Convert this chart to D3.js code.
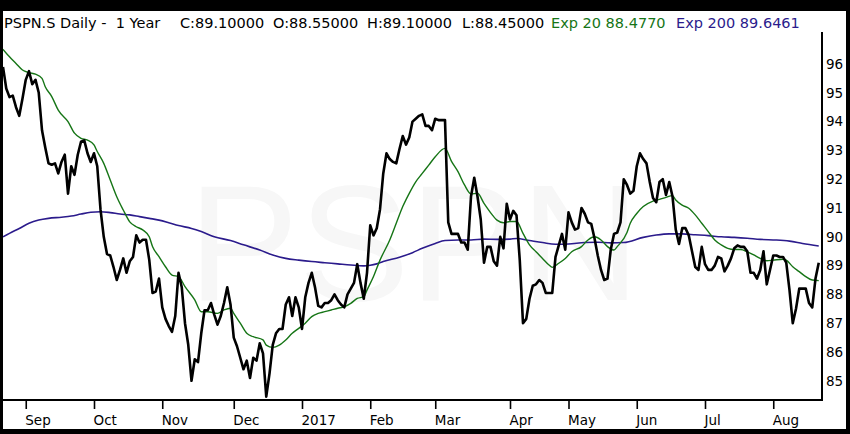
<!DOCTYPE html>
<html>
<head>
<meta charset="utf-8">
<script src="https://cdn.jsdelivr.net/npm/d3@7"></script>
<style>
  body { margin: 0; background: #000; overflow: hidden; }
  svg { display: block; }
</style>
</head>
<body>
<script>
// daily closes, one per trading day (index 0 = late Aug 2016)
var close = [
  95.9, 95.15, 94.85, 94.9, 94.5, 94.2, 94.8, 95.45, 95.75, 95.3,
  95.45, 95.0, 93.7, 93.1, 92.55, 92.5, 92.55, 92.2, 92.6, 92.85,
  91.5, 92.45, 92.15, 92.85, 93.3, 93.35, 92.9, 92.6, 92.9, 92.45,
  90.95, 90.0, 89.4, 89.35, 88.95, 88.5, 88.85, 89.25, 88.75, 89.15,
  89.3, 90.05, 89.8, 89.9, 89.9, 89.2, 88.05, 88.1, 88.55, 87.55,
  87.15, 86.9, 86.7, 87.25, 88.75, 88.25, 87.0, 86.25, 85.0, 85.75,
  85.65, 86.65, 87.45, 87.45, 87.7, 87.3, 86.95, 87.25, 87.7, 88.25,
  87.65, 86.5, 86.2, 85.8, 85.4, 85.7, 85.1, 85.8, 85.7, 86.3,
  85.95, 84.45, 85.25, 86.25, 86.65, 86.8, 86.8, 87.65, 87.9, 87.25,
  87.9, 87.55, 86.8, 87.9, 88.4, 88.75, 88.25, 87.6, 87.55, 87.7,
  87.7, 87.8, 88.0, 87.8, 87.65, 87.55, 88.0, 88.2, 88.4, 89.05,
  88.4, 87.85, 88.75, 90.4, 90.05, 90.3, 90.95, 92.2, 92.9, 92.7,
  92.6, 92.55, 93.05, 93.5, 93.2, 93.45, 94.0, 94.1, 94.2, 94.25,
  93.85, 93.85, 93.7, 94.1, 94.05, 94.05, 94.05, 90.5, 90.1, 90.1,
  90.1, 89.8, 89.8, 89.55, 91.4, 92.05, 91.4, 90.6, 89.1, 89.65,
  89.65, 89.15, 89.0, 90.0, 89.6, 91.15, 90.6, 90.9, 90.75, 89.2,
  87.0, 87.15, 87.85, 88.3, 88.35, 88.5, 88.4, 88.05, 88.05, 88.05,
  89.3, 89.7, 90.1, 89.55, 90.85, 90.5, 90.25, 90.3, 91.0, 90.8,
  90.5, 90.45, 89.95, 89.35, 88.85, 88.5, 88.55, 89.55, 90.1, 90.15,
  90.5, 92.0, 91.8, 91.5, 91.6, 92.45, 92.9, 92.7, 92.55, 91.9,
  91.35, 91.2, 91.9, 92.0, 91.45, 91.9, 91.4, 90.25, 89.75, 90.3,
  90.3, 90.05, 89.5, 88.95, 88.85, 89.65, 89.05, 88.85, 88.85, 89.0,
  89.3, 89.25, 88.8, 89.0, 89.25, 89.6, 89.7, 89.65, 89.65, 89.5,
  88.75, 88.75, 88.55, 88.85, 89.5, 88.35, 88.85, 89.35, 89.35, 89.3,
  89.3, 89.1, 88.15, 87.0, 87.5, 88.2, 88.2, 88.2, 87.7, 87.55,
  88.55, 89.1
];

// Exp 20
var ema20Day = [0, 2, 4, 6, 8, 10, 12, 13, 15, 17, 20, 22, 24, 26, 28, 29, 31, 33, 35, 37,
  39, 41, 43, 45, 46, 48, 50, 52, 54, 56, 59, 61, 63, 66, 68, 70, 71, 73, 75, 77,
  80, 81, 83, 85, 87, 89, 91, 93, 95, 97, 99, 101, 103, 105, 107, 109, 111, 112, 114, 116,
  119, 121, 123, 125, 127, 129, 131, 133, 136, 138, 140, 142, 144, 146, 148, 150, 152, 154, 156, 158,
  160, 162, 164, 166, 168, 169, 171, 173, 175, 178, 180, 182, 184, 186, 188, 189, 192, 193, 195, 197,
  200, 202, 204, 206, 207, 209, 211, 213, 215, 217, 219, 221, 223, 225, 227, 229, 231, 233, 235, 237,
  240, 241, 243, 245, 247, 249, 251];
var ema20Val = [96.51, 96.25, 96.02, 95.79, 95.70, 95.65, 95.50, 95.21, 94.87, 94.40, 94.0, 93.6, 93.42, 93.36, 93.19, 92.96, 92.55, 91.97, 91.39, 90.93,
  90.52, 90.35, 90.24, 90.0, 89.66, 89.31, 88.96, 88.67, 88.62, 88.27, 87.81, 87.40, 87.40, 87.34, 87.46, 87.52, 87.34, 87.0, 86.65, 86.53,
  86.42, 86.24, 86.16, 86.24, 86.42, 86.65, 86.82, 87.0, 87.23, 87.34, 87.40, 87.46, 87.52, 87.57, 87.69, 87.86, 87.92, 88.15, 88.62, 89.19,
  89.89, 90.47, 91.05, 91.51, 91.91, 92.20, 92.49, 92.78, 93.07, 92.62, 92.26, 91.8, 91.49, 91.51, 91.16, 90.84, 90.58, 90.49, 90.53, 90.53,
  90.12, 89.72, 89.48, 89.25, 89.02, 88.94, 89.08, 89.25, 89.48, 89.66, 89.89, 90.0, 89.89, 89.66, 89.54, 89.66, 90.15, 90.47, 90.81, 91.05,
  91.24, 91.30, 91.37, 91.43, 91.28, 91.10, 90.99, 90.76, 90.47, 90.18, 89.89, 89.72, 89.60, 89.56, 89.56, 89.48, 89.37, 89.25, 89.17, 89.19,
  89.22, 89.19, 88.96, 88.79, 88.62, 88.50, 88.48];

// Exp 200
var ema200Day = [0, 2, 5, 8, 11, 14, 18, 21, 24, 27, 30, 33, 36, 39, 42, 45, 48, 51, 54, 58,
  61, 65, 70, 74, 79, 83, 87, 91, 95, 99, 103, 107, 111, 113, 115, 117, 122, 126, 129, 133,
  136, 140, 144, 148, 152, 156, 158, 162, 166, 170, 174, 179, 183, 187, 191, 197, 201, 205, 209, 213,
  217, 221, 225, 229, 233, 238, 242, 246, 251];
var ema200Val = [90.0, 90.12, 90.29, 90.47, 90.58, 90.64, 90.68, 90.72, 90.79, 90.85, 90.87, 90.84, 90.79, 90.76, 90.70, 90.64, 90.58, 90.49, 90.39, 90.29,
  90.18, 90.0, 89.87, 89.72, 89.54, 89.37, 89.25, 89.19, 89.14, 89.10, 89.06, 89.02, 88.99, 89.01, 89.06, 89.14, 89.29, 89.45, 89.60, 89.77,
  89.87, 89.89, 89.89, 89.92, 89.91, 89.92, 89.94, 89.87, 89.80, 89.74, 89.75, 89.80, 89.81, 89.79, 89.80, 89.98, 90.06, 90.10, 90.10, 90.07,
  90.04, 90.0, 89.98, 89.95, 89.91, 89.89, 89.85, 89.77, 89.68];

var monthLabels = ["Sep", "Oct", "Nov", "Dec", "2017", "Feb", "Mar", "Apr", "May", "Jun", "Jul", "Aug"];
var monthDay = [7, 28, 49, 71, 92, 113, 133, 156, 174, 195, 216, 237];
var priceTicks = [85, 86, 87, 88, 89, 90, 91, 92, 93, 94, 95, 96];

var headerParts = [
  { text: "PSPN.S Daily -  1 Year", fill: "#000", x: 4 },
  { text: "C:89.10000", fill: "#000", x: 180 },
  { text: "O:88.55000", fill: "#000", x: 273 },
  { text: "H:89.10000", fill: "#000", x: 367 },
  { text: "L:88.45000", fill: "#000", x: 462 },
  { text: "Exp 20 88.4770", fill: "#167516", x: 551 },
  { text: "Exp 200 89.6461", fill: "#2b1b8c", x: 676 }
];

var width = 850, height = 434;
var svg = d3.select('body').append('svg')
  .attr('width', width)
  .attr('height', height);

svg.append('rect').attr('width', width).attr('height', height).attr('fill', '#000');
svg.append('rect')
  .attr('x', 3).attr('y', 11)
  .attr('width', 843).attr('height', 418)
  .attr('fill', '#fff');

// faint watermark
svg.append('text')
  .attr('x', 188).attr('y', 300)
  .attr('font-family', 'Liberation Sans, Arial, sans-serif')
  .attr('font-size', 166)
  .attr('fill', '#f7f7f7')
  .text('PSPN');

var x = d3.scaleLinear().domain([0, 251]).range([3, 818.75]);
var y = d3.scaleLinear().domain([85, 96]).range([380.8, 64]);

svg.append('clipPath').attr('id', 'plot')
  .append('rect').attr('x', 3).attr('y', 32).attr('width', 819).attr('height', 368);

var plot = svg.append('g').attr('clip-path', 'url(#plot)');

var ema200Line = d3.line()
  .x(function(d, i) { return x(ema200Day[i]); })
  .y(function(d) { return y(d); })
  .curve(d3.curveMonotoneX);
plot.append('path')
  .attr('d', ema200Line(ema200Val))
  .attr('fill', 'none')
  .attr('stroke', '#2b1b8c')
  .attr('stroke-width', 1.6);

var ema20Line = d3.line()
  .x(function(d, i) { return x(ema20Day[i]); })
  .y(function(d) { return y(d); })
  .curve(d3.curveMonotoneX);
plot.append('path')
  .attr('d', ema20Line(ema20Val))
  .attr('fill', 'none')
  .attr('stroke', '#167516')
  .attr('stroke-width', 1.4);

var closeLine = d3.line()
  .x(function(d, i) { return x(i); })
  .y(function(d) { return y(d); });
plot.append('path')
  .attr('d', closeLine(close))
  .attr('fill', 'none')
  .attr('stroke', '#000')
  .attr('stroke-width', 2.6)
  .attr('stroke-linejoin', 'round');

// frame lines of the plot
svg.append('line')
  .attr('x1', 3).attr('x2', 823).attr('y1', 400).attr('y2', 400)
  .attr('stroke', '#000').attr('stroke-width', 2);
svg.append('line')
  .attr('x1', 822).attr('x2', 822).attr('y1', 32).attr('y2', 401)
  .attr('stroke', '#000').attr('stroke-width', 2);

var xAxis = svg.append('g')
  .attr('transform', 'translate(0,401)')
  .call(d3.axisBottom(x)
    .tickValues(monthDay)
    .tickFormat(function(d, i) { return monthLabels[i]; })
    .tickSize(8)
    .tickSizeOuter(0));
xAxis.select('.domain').remove();
xAxis.selectAll('.tick line').attr('stroke', '#000').attr('stroke-width', 1.6);
xAxis.selectAll('.tick text')
  .attr('text-anchor', 'start')
  .attr('x', -1)
  .attr('y', 24)
  .attr('dy', null)
  .attr('fill', '#000')
  .attr('font-family', 'DejaVu Sans, sans-serif')
  .attr('font-size', 13.5);

var yAxis = svg.append('g')
  .attr('transform', 'translate(822,0)')
  .call(d3.axisRight(y)
    .tickValues(priceTicks)
    .tickSize(0)
    .tickPadding(4));
yAxis.select('.domain').remove();
yAxis.selectAll('.tick text')
  .attr('fill', '#000')
  .attr('font-family', 'DejaVu Sans, sans-serif')
  .attr('font-size', 13.5);

var header = svg.append('text')
  .attr('y', 28)
  .attr('font-family', 'DejaVu Sans, sans-serif')
  .attr('font-size', 14.5)
  .attr('xml:space', 'preserve');
header.selectAll('tspan')
  .data(headerParts)
  .enter()
  .append('tspan')
    .attr('x', function(d) { return d.x; })
    .attr('fill', function(d) { return d.fill; })
    .text(function(d) { return d.text; });
</script>
</body>
</html>
